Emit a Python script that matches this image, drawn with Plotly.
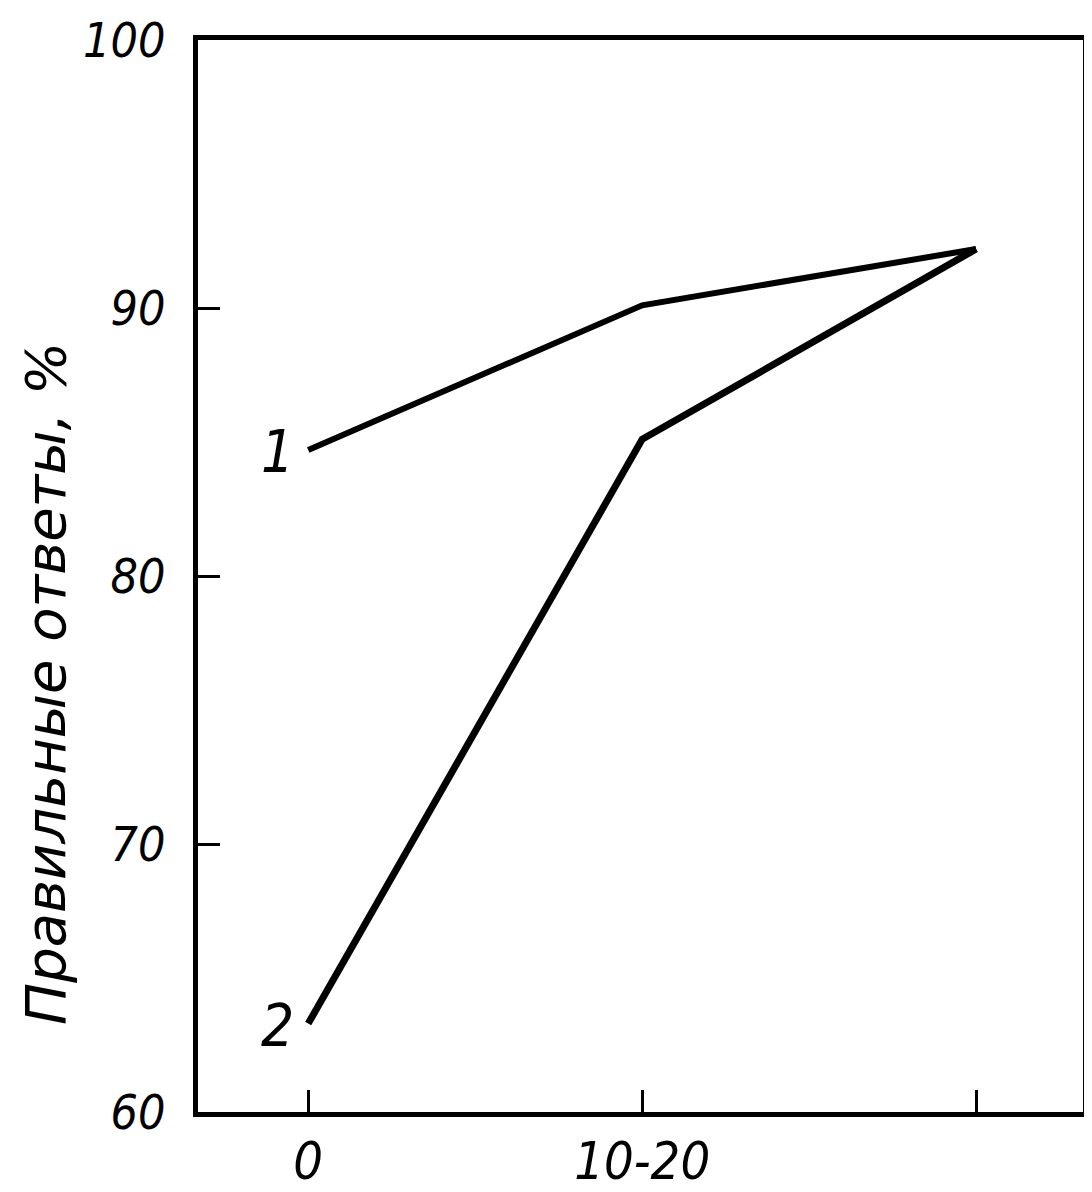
import plotly.graph_objects as go

categories = ["0", "10-20", ""]
x_pos = [0, 1, 2]
series1 = [84.7, 90.1, 92.2]
series2 = [63.3, 85.1, 92.2]
series_labels = ["1", "2"]
y_ticks = [60, 70, 80, 90, 100]

tick_font = dict(family="Liberation Sans Narrow, DejaVu Sans Condensed", size=48, color="black", style="italic")
xtick_font = dict(family="Liberation Sans Narrow, DejaVu Sans Condensed", size=52, color="black", style="italic")
label_font = dict(family="Liberation Sans Narrow, DejaVu Sans Condensed", size=58, color="black", style="italic")

fig = go.Figure()
fig.add_trace(go.Scatter(x=x_pos, y=series1, mode="lines", line=dict(color="black", width=6), showlegend=False))
fig.add_trace(go.Scatter(x=x_pos, y=series2, mode="lines", line=dict(color="black", width=7), showlegend=False))

for lbl, ser in zip(series_labels, [series1, series2]):
    fig.add_annotation(x=x_pos[0], y=ser[0], text=lbl, showarrow=False, xanchor="right",
                       xshift=-12, yshift=-2, font=label_font)

fig.add_annotation(xref="paper", yref="paper", x=-0.185, y=0.40, xshift=-24, text="Правильные ответы, %",
                   textangle=-90, showarrow=False,
                   font=dict(family="DejaVu Sans", size=56, color="black", style="italic"))

fig.update_xaxes(range=[-0.33, 2.32], tickvals=x_pos, ticktext=categories, ticks="inside", ticklen=22,
                 tickwidth=3, tickcolor="black", showline=True, linewidth=5, linecolor="black", mirror=True,
                 showgrid=False, zeroline=False, tickfont=xtick_font, ticklabelstandoff=0, automargin=False)
fig.update_yaxes(range=[60, 100], tickvals=y_ticks, ticks="inside", ticklen=22, tickwidth=3,
                 tickcolor="black", showline=True, linewidth=5, linecolor="black", mirror=True,
                 showgrid=False, zeroline=False, tickfont=tick_font, ticklabelstandoff=18,
                 ticklabeloverflow="allow", automargin=False)

fig.update_layout(width=1084, height=1184, margin=dict(l=190, r=9, t=32, b=80, autoexpand=False),
                  plot_bgcolor="white", paper_bgcolor="white")
fig.write_html("out.html")
